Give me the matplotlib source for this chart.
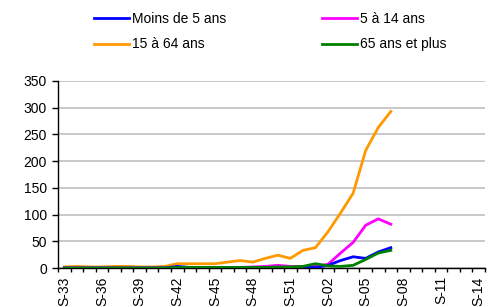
import matplotlib
matplotlib.use("Agg")
import matplotlib.pyplot as plt
import numpy as np

plt.rcParams['font.family'] = ['Liberation Sans', 'DejaVu Sans']

weeks = [f"S-{w}" for w in range(33, 53)] + [f"S-{w:02d}" for w in range(1, 15)]

moins5 = [0, 0, 0, 0, 0, 0, 0, 0, 0, 3, 1, 1, 1, 1, 1, 1, 1, 1, 1, 1, 1, 5, 14, 21, 18, 30, 38]
a5_14 = [0, 0, 0, 0, 0, 0, 0, 0, 0, 1, 1, 1, 1, 1, 1, 2, 3, 5, 3, 3, 3, 7, 28, 48, 80, 92, 82]
a15_64 = [2, 3, 2, 2, 3, 3, 2, 2, 3, 8, 8, 8, 8, 11, 14, 11, 18, 24, 18, 33, 38, 68, 103, 140, 220, 263, 293]
a65 = [0, 0, 0, 0, 0, 0, 0, 0, 0, 1, 1, 1, 1, 1, 1, 1, 1, 2, 2, 3, 8, 4, 3, 5, 16, 28, 33]

series = [
    ("Moins de 5 ans", moins5, "#0000ff"),
    ("15 à 64 ans", a15_64, "#ff9900"),
    ("5 à 14 ans", a5_14, "#ff00ff"),
    ("65 ans et plus", a65, "#008000"),
]

fig = plt.figure(figsize=(4.9, 3.07), dpi=100)
ax = fig.add_axes([58/490, 1-268/307, 427/490, 187/307])

handles = []
for name, vals, col in series:
    x = np.arange(len(vals))
    h, = ax.plot(x, vals, color=col, lw=2.0, label=name, solid_joinstyle='round')
    handles.append(h)
handles[0].set_zorder(3)
handles[1].set_zorder(2)
handles[2].set_zorder(2.5)
handles[3].set_zorder(4)

n = len(weeks)
ax.set_xlim(-0.5, n - 0.5)
ax.set_ylim(0, 350)
ax.set_yticks(range(0, 351, 50))
ax.yaxis.grid(True, color="#c0c0c0", lw=1.2)
ax.set_axisbelow(True)

ax.set_xticks(np.arange(0, n, 3))
ax.set_xticklabels([weeks[i] for i in range(0, n, 3)], rotation=90, fontsize=10)
ax.tick_params(axis='x', which='major', length=0, pad=6)
ax.set_xticks(np.arange(-0.5, n, 1), minor=True)
ax.tick_params(axis='x', which='minor', length=3, width=1, color='black', direction='out')
ax.tick_params(axis='y', labelsize=10, length=4.5, width=1, direction='out', pad=3.5)

for s in ['top', 'right']:
    ax.spines[s].set_visible(False)
for s in ['left', 'bottom']:
    ax.spines[s].set_linewidth(1.0)
    ax.spines[s].set_color('black')

fig.legend(handles=handles, labels=[h.get_label() for h in handles], ncol=2,
           loc='upper left', bbox_to_anchor=(94/490, 1 - 12/307), frameon=False,
           borderpad=0, borderaxespad=0,
           fontsize=10, handlelength=2.5, handletextpad=0.22, columnspacing=6.9,
           labelspacing=0.82)

fig.savefig("out.png", dpi=100)
